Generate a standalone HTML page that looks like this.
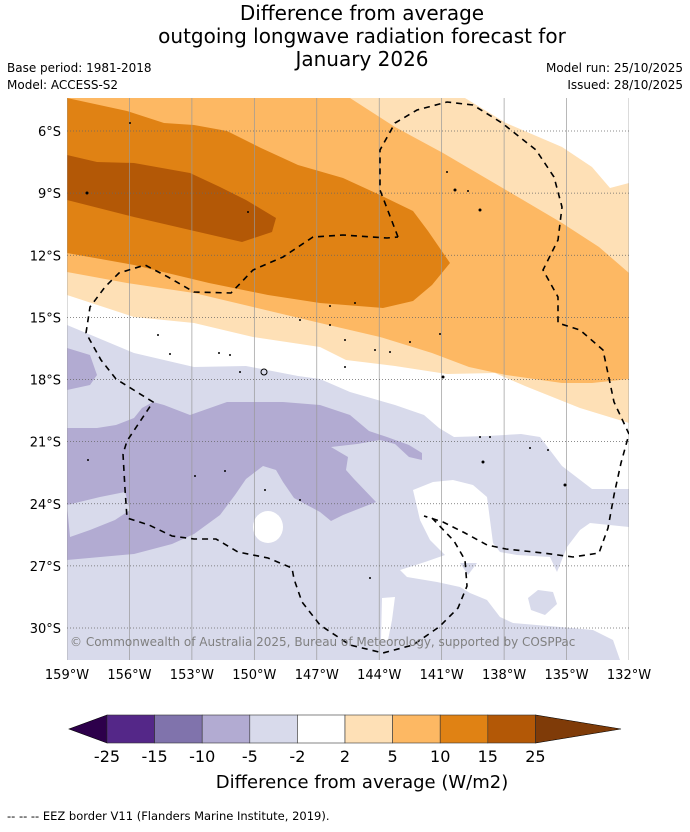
<!DOCTYPE html>
<html><head><meta charset="utf-8"><style>
body{margin:0;background:#fff;width:690px;height:827px;overflow:hidden;font-family:"Liberation Sans",sans-serif}
svg text{font-family:"DejaVu Sans","Liberation Sans",sans-serif}
</style></head><body>
<svg id="chart" width="690" height="827" viewBox="0 0 690 827" xmlns="http://www.w3.org/2000/svg">
<g font-size="20" text-anchor="middle" fill="#000">
<text x="362" y="20">Difference from average</text>
<text x="362" y="43">outgoing longwave radiation forecast for</text>
<text x="362" y="66">January 2026</text>
</g>
<g font-size="12" fill="#000">
<text x="7" y="72">Base period: 1981-2018</text>
<text x="7" y="89">Model: ACCESS-S2</text>
<text x="683" y="72" text-anchor="end">Model run: 25/10/2025</text>
<text x="683" y="89" text-anchor="end">Issued: 28/10/2025</text>
</g>
<defs><clipPath id="mc"><rect x="67" y="98" width="562" height="562"/></clipPath></defs>
<g clip-path="url(#mc)">
<rect x="67" y="98" width="562" height="562" fill="#d8daeb"/>
<polygon fill="#ffffff" points="67,98 629,98 629,489 592,489 562,466 540,437 521,434 487,436 454,437 439,428 424,415 395,405 350,392 320,379 298,376 246,366 194,367 134,353 67,325"/>
<polygon fill="#fee0b6" points="67,98 629,98 629,183 610,188 592,167 562,147 506,123 465,98 629,98 629,423 580,408 525,386 495,373 447,374 395,366 346,360 320,347 253,337 194,323 134,317 67,295"/>
<polygon fill="#ffffff" points="465,98 506,123 562,147 592,167 610,188 629,183 629,98"/>
<polygon fill="#fdb863" points="67,98 350,98 395,127 443,153 506,190 562,223 599,247 629,273 629,379 592,383 562,383 506,375 469,367 432,353 380,337 320,323 253,307 194,293 127,283 67,272"/>
<polygon fill="#e08214" points="67,98 127,111 164,123 194,125 227,131 261,148 298,165 343,178 380,195 413,211 428,231 450,263 432,285 413,301 383,308 320,303 268,295 209,283 134,265 67,253"/>
<polygon fill="#b35806" points="67,155 97,162 134,163 190,173 220,187 246,200 276,218 272,232 242,242 190,230 134,217 67,200"/>
<polygon fill="#b2abd2" points="67,348 90,355 97,375 90,385 67,390"/>
<polygon fill="#b2abd2" points="67,428 97,428 116,425 134,418 142,408 153,402 164,405 190,415 227,402 283,402 320,405 350,415 369,431 387,437 409,445 422,453 422,460 409,457 395,444 380,440 357,444 331,447 348,457 346,470 354,479 376,502 343,515 331,521 320,512 294,498 283,482 276,470 263,466 246,479 235,495 220,515 194,534 172,544 134,554 67,560"/>
<polygon fill="#d8daeb" points="67,505 100,497 125,492 130,510 115,520 90,530 70,537"/>
<ellipse cx="268" cy="527" rx="15" ry="16" fill="#fff"/>
<polygon fill="#fff" points="413,490 433,482 453,480 473,485 487,497 490,520 493,543 500,552 517,555 550,557 557,572 567,547 580,530 590,523 629,527 629,660 620,660 613,640 593,630 560,627 513,623 500,617 487,600 470,593 460,587 437,582 407,577 400,570 425,562 445,555 430,540 420,520"/>
<polygon fill="#d8daeb" points="460,563 477,563 468,575"/>
<polygon fill="#fff" points="381,640 382,598 395,597 392,620 388,640"/>
<polygon fill="#d8daeb" points="528,598 538,590 553,592 557,604 545,615 531,610"/>
<g id="grid"></g>
<path fill="none" stroke="#000" stroke-width="1.6" stroke-dasharray="6,5" d="M398,237 L380,190 380,150 395,123 417,110 447,102 473,105 502,123 536,150 554,177 562,207 558,240 543,270 558,297 558,323 580,330 603,350 610,383 614,402 629,434 621,463 614,495 608,528 599,553 573,557 543,553 506,549 487,545 465,533 443,522 424,516"/>
<path fill="none" stroke="#000" stroke-width="1.6" stroke-dasharray="6,5" d="M432,518 L454,541 465,560 467,586 458,608 439,627 413,645 383,653 350,645 320,625 302,602 294,579 292,568 268,558 238,552 216,539 194,539 172,536 149,525 127,518 125,489 123,454 127,441 153,402 116,379 101,360 86,333 90,307 105,287 119,273 145,265 168,277 194,292 231,293 253,270 283,257 313,237 343,235 387,238 398,237"/>
<g fill="#000">
<circle cx="87" cy="193" r="1.5"/><circle cx="130" cy="123" r="1"/><circle cx="248" cy="212" r="1"/><circle cx="455" cy="190" r="1.5"/><circle cx="468" cy="191" r="1"/><circle cx="480" cy="210" r="1.5"/><circle cx="447" cy="172" r="1"/>
<circle cx="330" cy="306" r="1"/><circle cx="355" cy="303" r="1"/><circle cx="300" cy="320" r="1"/><circle cx="330" cy="325" r="1"/><circle cx="345" cy="340" r="1"/><circle cx="375" cy="350" r="1"/><circle cx="390" cy="352" r="1"/><circle cx="410" cy="342" r="1"/><circle cx="440" cy="334" r="1"/>
<circle cx="219" cy="353" r="1"/><circle cx="230" cy="355" r="1"/><circle cx="264" cy="372" r="3" fill="none" stroke="#000"/><circle cx="158" cy="335" r="1"/><circle cx="170" cy="354" r="1"/><circle cx="240" cy="372" r="1"/><circle cx="345" cy="367" r="1"/><circle cx="443" cy="377" r="1.5"/>
<circle cx="88" cy="460" r="1"/><circle cx="195" cy="476" r="1"/><circle cx="225" cy="471" r="1"/><circle cx="265" cy="490" r="1"/><circle cx="300" cy="500" r="1"/><circle cx="370" cy="578" r="1"/><circle cx="483" cy="462" r="1.5"/><circle cx="480" cy="437" r="1"/><circle cx="490" cy="437" r="1"/><circle cx="565" cy="485" r="1.5"/><circle cx="548" cy="450" r="1"/><circle cx="530" cy="448" r="1"/>
</g>
<text x="70" y="646" font-size="12" fill="#808080">© Commonwealth of Australia 2025, Bureau of Meteorology, supported by COSPPac</text>
</g>
<g id="axes"></g>
<g id="cbar"></g>
<text x="362" y="788" font-size="18" text-anchor="middle">Difference from average (W/m2)</text>
<text x="7" y="820" font-size="11.5">--  --  -- EEZ border V11 (Flanders Marine Institute, 2019).</text>
</svg>
<script>
const lonTicks=[-159,-156,-153,-150,-147,-144,-141,-138,-135,-132];
const latTicks=[-6,-9,-12,-15,-18,-21,-24,-27,-30];
const cbarBounds=[-25,-15,-10,-5,-2,2,5,10,15,25];
const cbarColors=["#542788","#8073ac","#b2abd2","#d8daeb","#ffffff","#fee0b6","#fdb863","#e08214","#b35806"];
const NS="http://www.w3.org/2000/svg";
function xLon(l){return 67+(l+159)*(562/27);}
function yLat(l){return 131+(-6-l)*(497/24);}
function mk(t,a,p){const e=document.createElementNS(NS,t);for(const k in a)e.setAttribute(k,a[k]);p.appendChild(e);return e;}
const grid=document.getElementById('grid'),axes=document.getElementById('axes');
lonTicks.forEach(l=>{
 const x=xLon(l);
 const g=mk('line',{x1:x,x2:x,y1:98,y2:660,stroke:'#999','stroke-width':0.7},grid);
 
 
 const t=mk('text',{x:x,y:679,'font-size':13,'text-anchor':'middle'},axes);
 t.textContent=Math.abs(l)+'°W';
 
 
});
latTicks.forEach(l=>{
 const y=yLat(l);
 const g=mk('line',{x1:67,x2:629,y1:y,y2:y,stroke:'#666','stroke-width':0.8,'stroke-dasharray':'1,2'},grid);
 
 
 const t=mk('text',{x:61,y:y+5,'font-size':13,'text-anchor':'end'},axes);
 t.textContent=Math.abs(l)+'°S';
 
 
});
const cb=document.getElementById('cbar');
const cx0=107,cw=47.6,cy=715,ch=28;
const lt=mk('polygon',{points:`${cx0},${cy} ${cx0},${cy+ch} 69,${cy+ch/2}`,fill:'#2d004b',stroke:'#000','stroke-width':0.6},cb);


const rx=cx0+cw*cbarColors.length;
const rt=mk('polygon',{points:`${rx},${cy} ${rx},${cy+ch} 621,${cy+ch/2}`,fill:'#7f3b08',stroke:'#000','stroke-width':0.6},cb);


cbarColors.forEach((c,i)=>{
 const r=mk('rect',{x:cx0+i*cw,y:cy,width:cw,height:ch,fill:c,stroke:'#333','stroke-width':0.6},cb);
 
 
});
cbarBounds.forEach((b,i)=>{
 const t=mk('text',{x:cx0+i*cw,y:762,'font-size':16,'text-anchor':'middle'},cb);
 t.textContent=b;
 
 
});
</script>
</body></html>
